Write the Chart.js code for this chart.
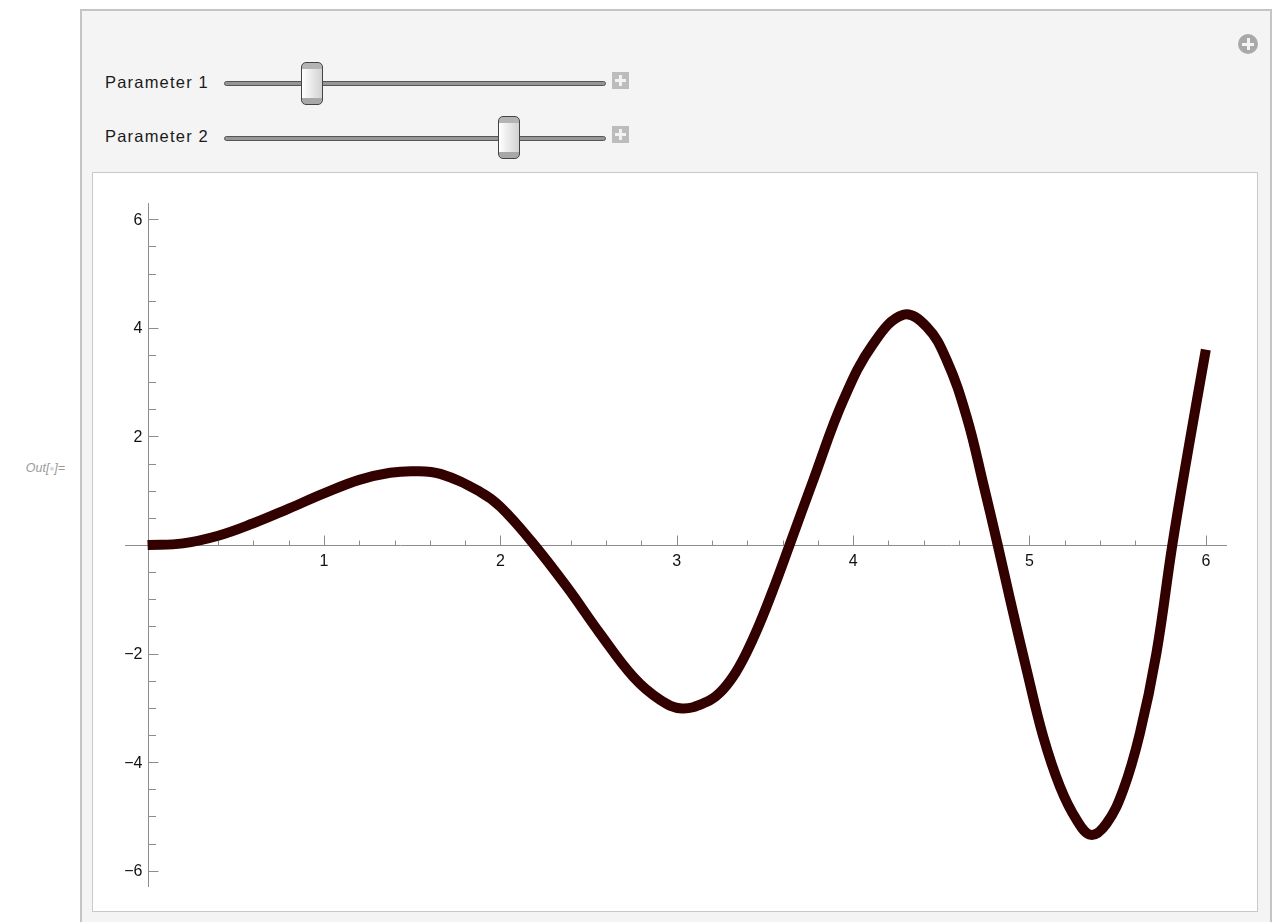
<!DOCTYPE html>
<html>
<head>
<meta charset="utf-8">
<script src="https://cdn.jsdelivr.net/npm/chart.js@4.4.1/dist/chart.umd.min.js"></script>
<style>
  html, body { margin:0; padding:0; background:#ffffff; width:1273px; height:922px; overflow:hidden; font-family:"Liberation Sans", Arial, Helvetica, sans-serif; }
  #panel { position:absolute; left:80px; top:9px; width:1192px; height:940px; background:#f4f4f4; border:2px solid #c4c4c4; box-sizing:border-box; }
  #out { position:absolute; right:1208px; top:461px; font-size:12.5px; font-style:italic; color:#9a9a9a; white-space:nowrap; }
  #out .dot { color:#d4d4d4; font-style:normal; font-size:8px; vertical-align:1px; }
  .plabel { position:absolute; left:105px; font-size:16.5px; color:#1a1a1a; letter-spacing:1.2px; }
  .track { position:absolute; left:224px; width:382px; height:5px; border:1px solid #555; border-radius:3px; background:#969696; box-sizing:border-box; }
  .knob { position:absolute; width:22px; height:43px; border:1px solid #444; border-radius:5px; box-sizing:border-box;
    background: linear-gradient(to bottom, #b4b4b4 0, #b4b4b4 6px, rgba(0,0,0,0) 6px, rgba(0,0,0,0) calc(100% - 6px), #a8a8a8 calc(100% - 6px), #a8a8a8 100%), linear-gradient(to right, #ffffff, #d2d2d2); }
  .pbtn { position:absolute; left:612px; width:17px; height:17px; background:#bcbcbc; }
  .pbtn:before { content:""; position:absolute; left:3px; top:7px; width:11px; height:3px; background:#f2f2f2; }
  .pbtn:after { content:""; position:absolute; left:7px; top:3px; width:3px; height:11px; background:#f2f2f2; }
  #cplus { position:absolute; left:1238px; top:34px; width:20px; height:20px; border-radius:50%; background:#a9a9a9; }
  #cplus:before { content:""; position:absolute; left:4px; top:8.5px; width:12px; height:3px; background:#f4f4f4; }
  #cplus:after { content:""; position:absolute; left:8.5px; top:4px; width:3px; height:12px; background:#f4f4f4; }
  #plotbox { position:absolute; left:92px; top:172px; width:1166px; height:740px; background:#ffffff; border:1px solid #c9c9c9; box-sizing:border-box; }
  #chart { position:absolute; left:92px; top:172px; }
</style>
</head>
<body>
<div id="panel"></div>
<div id="out">Out[<span class="dot">●</span>]=</div>
<div class="plabel" style="top:73px;">Parameter 1</div>
<div class="plabel" style="top:127px;">Parameter 2</div>
<div class="track" style="top:81px;"></div>
<div class="track" style="top:136px;"></div>
<div class="knob" style="left:301px; top:62px;"></div>
<div class="knob" style="left:498px; top:116px;"></div>
<div class="pbtn" style="top:72px;"></div>
<div class="pbtn" style="top:126px;"></div>
<div id="cplus"></div>
<div id="plotbox"></div>
<canvas id="chart" width="1166" height="740" style="width:1166px;height:740px;"></canvas>
<script>
// ---- data ----
const xValues = [0, 0.2, 0.4, 0.6, 0.8, 1.0, 1.2, 1.375, 1.51, 1.66, 1.885, 2.0, 2.178,
  2.377, 2.565, 2.754, 2.905, 3.03, 3.17, 3.245, 3.32, 3.39, 3.47, 3.555, 3.64, 3.775, 3.945, 4.115, 4.285,
  4.417, 4.53, 4.644, 4.74, 4.82, 4.89, 4.984, 5.078, 5.173, 5.267, 5.349, 5.437,
  5.532, 5.626, 5.72, 5.81, 5.9, 6.0];
const yValues = [0, 0.03, 0.17, 0.40, 0.67, 0.95, 1.20, 1.33, 1.36, 1.31, 0.98, 0.705, 0.06,
  -0.77, -1.63, -2.43, -2.85, -3.01, -2.89, -2.72, -2.42, -2.02, -1.45, -0.75, 0.0, 1.2, 2.67, 3.71, 4.24,
  4.02, 3.41, 2.36, 1.1, 0.0, -1.0, -2.30, -3.53, -4.45, -5.06, -5.34, -5.13,
  -4.51, -3.47, -1.99, 0.0, 1.75, 3.6];
const xTickValues = [1, 2, 3, 4, 5, 6];
const xTickLabels = ['1', '2', '3', '4', '5', '6'];
const yTickValues = [-6, -4, -2, 2, 4, 6];
const yTickLabels = ['\u22126', '\u22124', '\u22122', '2', '4', '6'];
const xMinorStep = 0.2;
const yMinorStep = 0.5;
const xRange = [-0.128, 6.12];
const yRange = [-6.3, 6.3];

const axesPlugin = {
  id: 'mmaAxes',
  beforeDatasetsDraw(chart) {
    const ctx = chart.ctx;
    const xs = chart.scales.x, ys = chart.scales.y;
    const area = chart.chartArea;
    const x0 = Math.round(xs.getPixelForValue(0)) + 0.5;
    const y0 = Math.round(ys.getPixelForValue(0)) + 0.5;
    ctx.save();
    ctx.strokeStyle = '#8c8c8c';
    ctx.lineWidth = 1;
    ctx.beginPath();
    ctx.moveTo(area.left, y0); ctx.lineTo(area.right, y0);
    ctx.moveTo(x0, area.top); ctx.lineTo(x0, area.bottom);
    const nxMax = Math.floor(xRange[1] / xMinorStep + 1e-9);
    for (let n = 1; n <= nxMax; n++) {
      const v = n * xMinorStep;
      const major = xTickValues.some(t => Math.abs(t - v) < 1e-6);
      const px = Math.round(xs.getPixelForValue(v)) + 0.5;
      ctx.moveTo(px, y0); ctx.lineTo(px, y0 - (major ? 10 : 5));
    }
    const nMin = Math.ceil(yRange[0] / yMinorStep), nMax = Math.floor(yRange[1] / yMinorStep);
    for (let n = nMin; n <= nMax; n++) {
      if (n === 0) continue;
      const v = n * yMinorStep;
      const major = yTickValues.some(t => Math.abs(t - v) < 1e-6);
      const py = Math.round(ys.getPixelForValue(v)) + 0.5;
      ctx.moveTo(x0, py); ctx.lineTo(x0 + (major ? 10 : 7.5), py);
    }
    ctx.stroke();
    ctx.fillStyle = '#111111';
    ctx.font = '16px "Liberation Sans", Arial, sans-serif';
    ctx.textAlign = 'center';
    ctx.textBaseline = 'top';
    xTickValues.forEach((v, i) => {
      ctx.fillText(xTickLabels[i], xs.getPixelForValue(v), y0 + 8);
    });
    ctx.textAlign = 'right';
    ctx.textBaseline = 'middle';
    yTickValues.forEach((v, i) => {
      ctx.fillText(yTickLabels[i], x0 - 6, ys.getPixelForValue(v) + 1);
    });
    ctx.restore();
  }
};

new Chart(document.getElementById('chart').getContext('2d'), {
  type: 'scatter',
  data: {
    datasets: [{
      data: xValues.map((x, i) => ({ x: x, y: yValues[i] })),
      showLine: true,
      borderColor: '#330000',
      borderWidth: 10,
      pointRadius: 0,
      pointHoverRadius: 0,
      tension: 0.4,
      borderCapStyle: 'butt',
      borderJoinStyle: 'round',
      clip: false
    }]
  },
  options: {
    responsive: false,
    animation: false,
    events: [],
    devicePixelRatio: 1,
    layout: { padding: { left: 33, right: 31, top: 31, bottom: 25 } },
    plugins: { legend: { display: false }, tooltip: { enabled: false } },
    scales: {
      x: { type: 'linear', min: xRange[0], max: xRange[1], display: false },
      y: { type: 'linear', min: yRange[0], max: yRange[1], display: false }
    }
  },
  plugins: [axesPlugin]
});
</script>
</body>
</html>
